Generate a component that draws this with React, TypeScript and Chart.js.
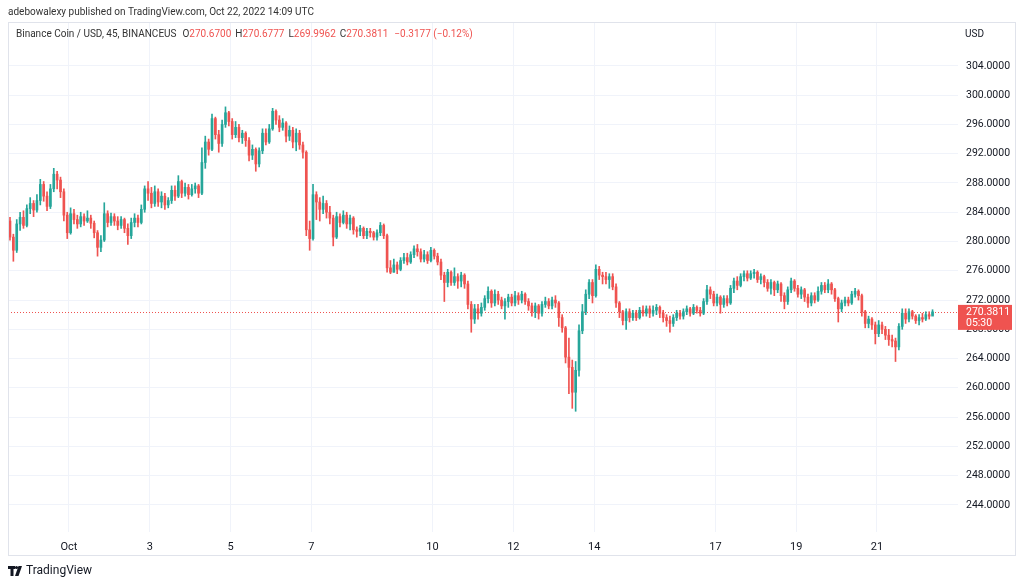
import React, { useEffect, useRef } from "react";
import { Chart, registerables } from "chart.js";

Chart.register(...registerables);

// ---- DATA (2-hour candles, Sep 29 → Oct 22) ----
const firstOpen = 282.8;
const closes = [
  280.6, 278.8, 282.4, 283.3, 282.2, 284.5, 285.2, 284.3, 285.6, 287.8,
  286.2, 284.8, 287.2, 289.2, 288.4, 286.8, 283.6, 281.2, 283.8, 283,
  282.4, 283.4, 282.8, 283.2, 282.5, 281.2, 279.2, 280.2, 283.8, 282.6,
  283.4, 282.8, 282.2, 283, 281.8, 280.8, 282.6, 283.2, 282.6, 284.4,
  287.2, 286.6, 285.2, 286.8, 285.4, 286.2, 285, 285.6, 287, 286.2,
  288.2, 286.6, 287.4, 286.4, 287.2, 287.6, 286.6, 290.8, 293.6, 292.6,
  296.8, 294.6, 293.4, 296, 297.6, 296.4, 294.6, 295.6, 294.2, 294.8,
  293.8, 291.8, 292.6, 290.6, 292.4, 294.8, 293.6, 295.4, 297.8, 296.6,
  295.6, 296.2, 294.4, 295.2, 293.6, 294.8, 293.2, 292.2, 281.6, 280.4,
  286.4, 285.4, 284.4, 285.2, 284, 283.2, 280.6, 283.4, 282.6, 283.6,
  282.4, 283.2, 281.6, 281.4, 281.8, 280.8, 281.4, 281.2, 280.6, 281.2,
  282.2, 280.8, 276.4, 275.8, 276.8, 276.2, 277.4, 277.8, 277.2, 278.2,
  279, 278.6, 277.6, 278.2, 277.4, 278.8, 278, 277.2, 275.4, 274.4,
  275.8, 274.4, 275.2, 274.6, 275.4, 274.2, 271.4, 269.4, 270.8, 270.2,
  271, 272.2, 273.2, 271.6, 272.8, 272, 271.2, 271.8, 272.4, 271.6,
  272.6, 272, 272.8, 271.8, 271.2, 270.4, 271.2, 270.2, 271.4, 271.8,
  271.2, 272, 271.6, 269.6, 268.2, 264.2, 262.8, 259.4, 262.4, 267.8,
  270.4, 272.8, 274.4, 272.6, 276.2, 275.4, 275.2, 274.8, 275.2, 273.8,
  271.6, 270.4, 269.2, 270.4, 269.6, 270.2, 269.6, 270.6, 270.2, 270.8,
  270.2, 270.6, 271, 270.2, 269.6, 269.2, 268.8, 269.6, 270.2, 269.8,
  270.4, 270.8, 270.2, 271, 270.6, 270.2, 271.8, 273.4, 272.8, 271.6,
  272.4, 271.4, 272.2, 271.6, 273.6, 274.6, 274, 275.2, 275.6, 275,
  275.6, 275.8, 274.8, 275.2, 274.4, 273.6, 274.4, 273.4, 274.2, 272.6,
  271.8, 273.4, 274.6, 273.6, 272.8, 273.4, 272.4, 271.6, 272.6, 272,
  273.2, 274, 273.4, 274.2, 273.4, 272.2, 270.8, 271.6, 272, 271.6,
  272.8, 273.2, 272.6, 270.4, 268.8, 269.4, 268.6, 267.4, 268.6, 268,
  267.2, 266.6, 266.4, 265.6, 268.4, 270.2, 269.4, 270.4, 269.8, 269.2,
  269.6, 269.4, 270, 269.8, 270.3811,
];
const highs = [
  283.3, 281, 283, 284, 284.2, 285, 286, 285.6, 286.4, 288.5,
  288.2, 286.8, 287.8, 290, 289.6, 288.8, 287.2, 284, 284.6, 284.4,
  283.6, 284, 283.8, 284.2, 283.6, 282.8, 281.5, 280.8, 285.3, 284.2,
  283.9, 283.8, 283.4, 283.4, 283.2, 282.4, 283.2, 283.8, 283.6, 285,
  287.6, 288.2, 287.4, 287.6, 287.2, 286.8, 286.6, 286, 287.6, 287.6,
  289, 288.4, 288, 287.8, 287.8, 288, 287.8, 292.8, 294.4, 294,
  297.4, 297, 295.2, 296.6, 298.4, 297.8, 296.8, 296.4, 296, 295.2,
  295, 294.2, 293.2, 292.8, 292.8, 295.4, 295.4, 296, 298.2, 298,
  297.2, 296.8, 296.4, 295.8, 295.6, 295.4, 295.2, 293.6, 292.4, 282.8,
  287.8, 286.8, 286, 286.2, 285.6, 284.8, 283.6, 284, 283.8, 284.2,
  284, 283.6, 283.4, 282, 282.2, 282, 281.8, 281.8, 281.4, 281.6,
  282.6, 282.4, 281, 277.4, 277.6, 277.2, 277.8, 278.4, 278.4, 278.6,
  279.4, 279.6, 279, 278.8, 278.6, 279.2, 279, 278.4, 277.6, 275.8,
  276.2, 276, 276.4, 275.6, 275.8, 275.6, 274.6, 271.8, 271.4, 271.4,
  271.6, 272.6, 273.8, 273.4, 273.4, 273.2, 272.4, 272.2, 272.8, 272.8,
  273.2, 273, 273.2, 273, 272.2, 271.6, 271.6, 271.4, 271.8, 272.4,
  272.2, 272.4, 272.6, 271.8, 270, 268.4, 266.8, 263.8, 263.6, 268.6,
  271.4, 273.4, 274.8, 274.8, 276.8, 276.6, 275.8, 275.8, 275.6, 275.6,
  274.2, 271.8, 270.6, 270.8, 270.8, 270.6, 270.6, 271, 271.2, 271.2,
  271.2, 271.2, 271.4, 271.2, 270.6, 270, 269.8, 270, 270.6, 270.6,
  270.8, 271.2, 271, 271.4, 271.2, 271, 272.2, 274, 273.8, 273.2,
  272.8, 272.6, 272.6, 272.6, 274, 275, 275.2, 275.6, 276, 276,
  276, 276.2, 276, 275.6, 275.4, 274.8, 274.8, 274.6, 274.6, 274.4,
  273, 273.8, 275, 274.8, 274, 273.8, 273.6, 272.8, 273, 273,
  273.8, 274.4, 274.4, 274.8, 274.4, 273.6, 272.4, 272, 272.4, 272.4,
  273.2, 273.6, 273.4, 272.8, 270.6, 269.8, 269.6, 269, 269.2, 269,
  268.4, 268, 267.2, 266.8, 268.8, 270.8, 270.8, 270.8, 270.6, 270,
  270, 270.2, 270.4, 270.4, 270.6777,
];
const lows = [
  280.2, 277.3, 278.5, 281.5, 281.8, 282, 283.8, 283.4, 284, 285,
  285.5, 284.2, 284.5, 286.8, 287.2, 286, 282.8, 280.4, 281, 282.4,
  281.8, 282, 282.2, 282.6, 281.8, 280.5, 278, 278.6, 280, 282,
  282.2, 282.2, 281.6, 281.8, 281.2, 279.6, 280.4, 282, 282, 282.4,
  284, 285.6, 284.6, 284.8, 284.8, 284.6, 284.4, 284.6, 285.2, 285.6,
  286, 286, 286.2, 285.8, 286.2, 286.6, 286, 286.4, 290, 291.8,
  292.4, 294, 292.2, 293, 295.6, 295.8, 294, 294.2, 293.6, 293.4,
  293, 291, 291.2, 289.6, 290.2, 292, 293.2, 293.4, 295.2, 296,
  295, 295.2, 293.6, 293.8, 292.8, 292.4, 292.6, 291.4, 280.8, 278.8,
  280.2, 283, 282.8, 283.8, 283.2, 282.4, 279.4, 280.4, 282, 282.4,
  281.8, 281.6, 281, 280.6, 280.8, 280.4, 280.4, 280.6, 280.2, 280.2,
  280.8, 280.4, 275.8, 275.6, 275.8, 275.6, 276, 277, 276.8, 277,
  277.8, 278, 277.2, 277.2, 277, 277.2, 277.6, 276.8, 274.8, 271.8,
  273.8, 274, 274, 273.6, 273.8, 273.6, 270.8, 267.6, 268.8, 269.4,
  269.8, 270.6, 271.6, 271, 271.2, 271.4, 270.8, 269.4, 271, 271.2,
  271.2, 271.4, 271.6, 271.4, 270.6, 269.8, 269.6, 269.4, 269.8, 271,
  270.8, 270.8, 271, 268.4, 267.6, 263.4, 259.2, 257.2, 256.8, 261.6,
  267.4, 270, 272.2, 271.6, 272.4, 274.8, 274.2, 274.2, 273.6, 273.4,
  271, 269.6, 268.6, 268, 269, 269.2, 269.2, 269.4, 269.8, 269.8,
  269.6, 269.8, 270, 269.6, 269, 268.4, 267.6, 268.4, 269.2, 269.4,
  269.4, 270, 269.8, 270, 270.2, 269.8, 270, 271.4, 272.2, 271.2,
  271.2, 270.2, 271, 271.2, 271.4, 273, 273.4, 273.8, 274.6, 274.6,
  274.8, 275, 274.4, 274.2, 273.8, 273.2, 272.8, 272.6, 273, 271.8,
  270.8, 271.4, 273, 273.2, 272.4, 272.2, 271.8, 271, 271.2, 271.6,
  271.8, 272.8, 273, 273, 272.8, 271.8, 269, 270.4, 271.2, 271.2,
  271.4, 272.4, 272, 269.8, 268.2, 268.2, 268, 266, 267, 267.4,
  266.6, 265.8, 265.6, 263.6, 265.2, 268, 268.8, 269, 269.4, 268.8,
  268.6, 269, 269.2, 269.4, 269.9962,
];

// axis tick labels
const dayNumbers = [1, 3, 5, 7, 10, 12, 14, 17, 19, 21];
const dayLabels = ["Oct", "3", "5", "7", "10", "12", "14", "17", "19", "21"];
const candlesPerDay = 12;
const oct1Index = 17.5;
const yTickValues = [244, 248, 252, 256, 260, 264, 268, 272, 276, 280, 284, 288, 292, 296, 300, 304];

// header text
const publishLine = "adebowalexy published on TradingView.com, Oct 22, 2022 14:09 UTC";
const symbolLine = "Binance Coin / USD, 45, BINANCEUS";
const ohlcLegend = [
  ["O", "270.6700"],
  ["H", "270.6777"],
  ["L", "269.9962"],
  ["C", "270.3811"],
];
const changeText = "\u22120.3177 (\u22120.12%)";
const countdown = "05:30";

// ---- STYLE ----
const UP = "#26a69a";
const DOWN = "#ef5350";
const GRID = "#f0f3fa";
const FRAME = "#e0e3eb";
const TEXT = "#131722";
const FONT = "Roboto, 'Noto Sans', sans-serif";

const X_MIN = -0.594;
const X_MAX = 281.56;
const Y_MIN = 240.3;
const Y_MAX = 310.0;

const overlay = {
  id: "overlay",
  beforeDatasetsDraw(chart: any) {
    const { ctx, chartArea, scales } = chart;
    const last = closes[closes.length - 1];
    const y = Math.round(scales.y.getPixelForValue(last)) + 0.5;
    ctx.save();
    ctx.strokeStyle = DOWN;
    ctx.lineWidth = 1;
    ctx.setLineDash([1, 2]);
    ctx.beginPath();
    ctx.moveTo(chartArea.left, y);
    ctx.lineTo(chartArea.right, y);
    ctx.stroke();
    ctx.restore();
  },
  afterDraw(chart: any) {
    const { ctx, chartArea, scales } = chart;
    ctx.save();
    // frame
    ctx.strokeStyle = FRAME;
    ctx.lineWidth = 1;
    ctx.strokeRect(8.5, 22.5, 1007, 533);

    // publish line
    ctx.fillStyle = "#333";
    ctx.font = `10px ${FONT}`;
    ctx.textBaseline = "middle";
    ctx.textAlign = "left";
    ctx.fillText(publishLine, 8, 12);

    // legend line
    let x = 16;
    const ly = 34;
    ctx.fillStyle = "#333";
    ctx.fillText(symbolLine, x, ly);
    x += ctx.measureText(symbolLine).width + 6;
    for (const [k, v] of ohlcLegend) {
      ctx.fillStyle = "#333";
      ctx.fillText(k, x, ly);
      x += ctx.measureText(k).width;
      ctx.fillStyle = DOWN;
      ctx.fillText(v, x, ly);
      x += ctx.measureText(v).width + 4;
    }
    ctx.fillStyle = DOWN;
    ctx.fillText(changeText, x + 2, ly);

    // USD
    ctx.fillStyle = TEXT;
    ctx.fillText("USD", chartArea.right + 7, 34);

    // price box
    const last = closes[closes.length - 1];
    const py = scales.y.getPixelForValue(last);
    ctx.fillStyle = DOWN;
    ctx.fillRect(chartArea.right, py - 7, 54, 25);
    ctx.fillStyle = "#fff";
    ctx.font = `10.5px ${FONT}`;
    ctx.fillText(last.toFixed(4), chartArea.right + 8, py);
    ctx.fillText(countdown, chartArea.right + 8, py + 11);

    // TradingView logo
    ctx.fillStyle = TEXT;
    ctx.fillRect(8, 566, 7, 3);
    ctx.fillRect(10.5, 566, 3, 10);
    ctx.beginPath();
    ctx.arc(16.5, 567.5, 1.6, 0, Math.PI * 2);
    ctx.fill();
    ctx.beginPath();
    ctx.moveTo(18.5, 566);
    ctx.lineTo(22, 566);
    ctx.lineTo(18.5, 576);
    ctx.lineTo(15, 576);
    ctx.closePath();
    ctx.fill();
    ctx.font = `12px ${FONT}`;
    ctx.fillStyle = TEXT;
    ctx.fillText("TradingView", 26, 571);
    ctx.restore();
  },
};

export default function App() {
  const ref = useRef<HTMLCanvasElement>(null);
  useEffect(() => {
    const canvas = ref.current;
    if (!canvas) return;
    const opens = closes.map((c, i) => (i === 0 ? firstOpen : closes[i - 1]));
    const colors = closes.map((c, i) => (c >= opens[i] ? UP : DOWN));
    const dayTickValues = dayNumbers.map((d) => oct1Index + candlesPerDay * (d - 1));

    const chart = new Chart(canvas, {
      type: "bar",
      data: {
        datasets: [
          {
            label: "body",
            data: closes.map((c, i) => ({ x: i, y: [opens[i], c] })) as any,
            backgroundColor: colors,
            borderWidth: 0,
            barThickness: 2,
            minBarLength: 1,
            grouped: false,
            order: 1,
          } as any,
          {
            label: "wick",
            data: highs.map((h, i) => ({ x: i, y: [lows[i], h] })) as any,
            backgroundColor: colors,
            borderWidth: 0,
            barThickness: 1,
            grouped: false,
            order: 2,
          } as any,
        ],
      },
      options: {
        animation: false,
        responsive: false,
        maintainAspectRatio: false,
        events: [],
        layout: { padding: { left: 8, top: 22, right: 9, bottom: 31 } },
        plugins: { legend: { display: false }, tooltip: { enabled: false } },
        scales: {
          x: {
            type: "linear",
            min: X_MIN,
            max: X_MAX,
            offset: false,
            grid: { color: GRID, drawTicks: false, offset: false },
            border: { display: false },
            ticks: {
              padding: 9,
              color: TEXT,
              font: { family: FONT, size: 11 },
              maxRotation: 0,
              autoSkip: false,
              callback: (v: any) => {
                const k = dayTickValues.indexOf(Number(v));
                return k >= 0 ? dayLabels[k] : "";
              },
            },
            afterBuildTicks: (s: any) => {
              s.ticks = dayTickValues.map((v) => ({ value: v }));
            },
            afterFit: (s: any) => {
              s.height = 23;
            },
          },
          y: {
            type: "linear",
            position: "right",
            min: Y_MIN,
            max: Y_MAX,
            beginAtZero: false,
            grid: { color: GRID, drawTicks: false },
            border: { display: false },
            ticks: {
              padding: 8,
              color: TEXT,
              font: { family: FONT, size: 10.5 },
              callback: (v: any) => Number(v).toFixed(4),
            },
            afterBuildTicks: (s: any) => {
              s.ticks = yTickValues.map((v) => ({ value: v }));
            },
            afterFit: (s: any) => {
              s.width = 57;
            },
          },
        },
      } as any,
      plugins: [overlay],
    });
    return () => chart.destroy();
  }, []);

  return (
    <div style={{ position: "fixed", left: 0, top: 0, width: 1024, height: 586, background: "#fff" }}>
      <canvas ref={ref} width={1024} height={586} style={{ display: "block" }} />
    </div>
  );
}
